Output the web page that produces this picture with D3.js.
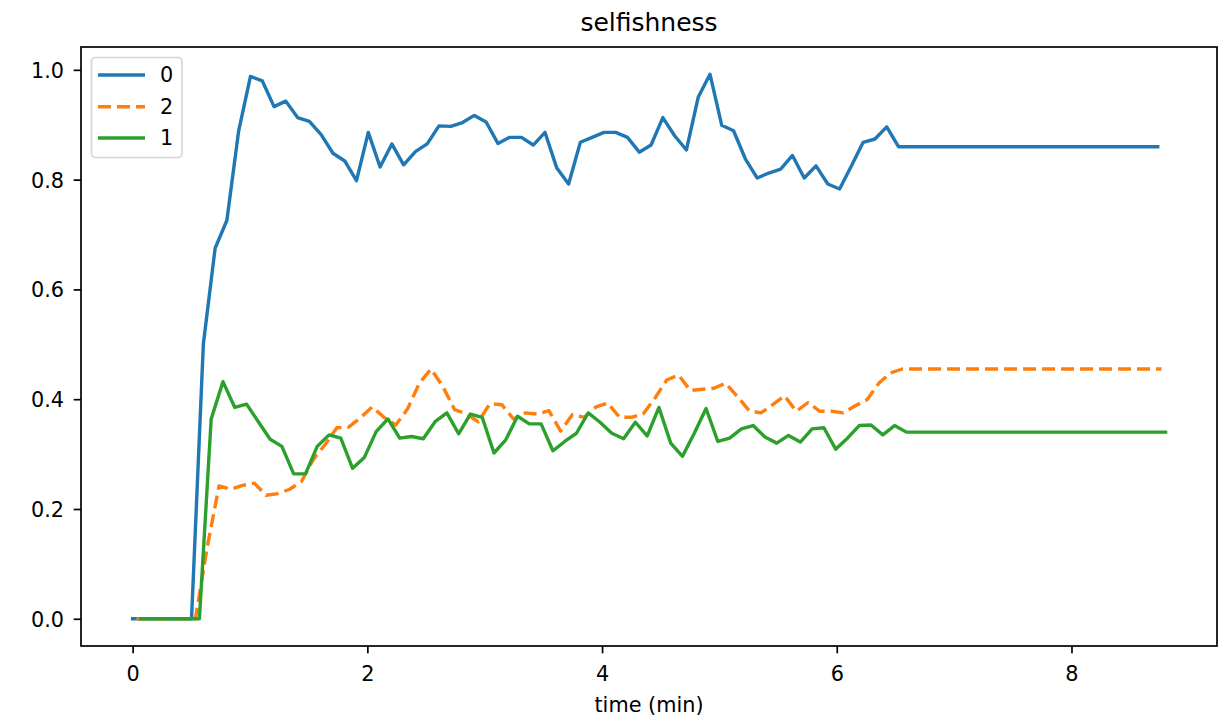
<!DOCTYPE html>
<html><head><meta charset="utf-8">
<script src="https://cdn.jsdelivr.net/npm/d3@7"></script>
<style>body{margin:0;background:#fff} svg{display:block}</style>
</head><body><svg id="c" width="1226" height="725"></svg>
<script>
const chartTitle = "selfishness";
const xLabel = "time (min)";
const seriesNames = ["0", "2", "1"];
const seriesColors = ["#1f77b4", "#ff7f0e", "#2ca02c"];
const seriesDashed = [false, true, false];
const startTimes = [0, 0.033, 0.067];
const sampleStep = 0.1004;

const values0 = [0,0,0,0,0,0,0.50,0.675,0.726,0.889,0.988,0.980,0.933,0.943,0.913,0.906,0.882,0.848,0.834,0.798,
  0.886,0.823,0.865,0.827,0.851,0.865,0.898,0.897,0.904,0.917,0.905,0.866,0.877,0.877,0.863,0.886,0.821,0.792,0.868,0.877,
  0.886,0.886,0.877,0.850,0.863,0.913,0.880,0.854,0.950,0.992,0.899,0.889,0.838,0.803,0.812,0.819,0.844,0.803,0.825,0.792,
  0.783,0.825,0.868,0.874,0.896,
  0.86,0.86,0.86,0.86,0.86,0.86,0.86,0.86,0.86,0.86,0.86,0.86,0.86,0.86,0.86,0.86,0.86,0.86,0.86,0.86,0.86,0.86,0.86];
const values2 = [0,0,0,0,0,0,0.13,0.242,0.236,0.243,0.247,0.225,0.228,0.236,0.250,0.290,0.317,0.348,0.349,0.366,
  0.386,0.367,0.353,0.382,0.429,0.455,0.423,0.381,0.373,0.359,0.392,0.390,0.364,0.375,0.373,0.379,0.342,0.372,0.367,0.386,
  0.393,0.367,0.367,0.373,0.402,0.435,0.444,0.416,0.418,0.420,0.429,0.405,0.379,0.375,0.390,0.406,0.378,0.394,0.378,0.378,
  0.375,0.388,0.399,0.429,0.448,
  0.455,0.455,0.455,0.455,0.455,0.455,0.455,0.455,0.455,0.455,0.455,0.455,0.455,0.455,0.455,0.455,0.455,0.455,0.455,0.455,0.455,0.455,0.455];
const values1 = [0,0,0,0,0,0,0.364,0.432,0.385,0.391,0.359,0.327,0.314,0.264,0.264,0.314,0.335,0.329,0.274,0.294,
  0.341,0.364,0.329,0.332,0.328,0.359,0.375,0.337,0.373,0.367,0.302,0.326,0.369,0.355,0.355,0.306,0.323,0.338,0.375,0.358,
  0.338,0.328,0.358,0.333,0.385,0.320,0.296,0.338,0.383,0.323,0.329,0.346,0.352,0.331,0.320,0.334,0.322,0.346,0.348,0.309,
  0.329,0.352,0.353,0.335,0.352,
  0.34,0.34,0.34,0.34,0.34,0.34,0.34,0.34,0.34,0.34,0.34,0.34,0.34,0.34,0.34,0.34,0.34,0.34,0.34,0.34,0.34,0.34,0.34];
const seriesValues = [values0, values2, values1];

const xTicks = [0, 2, 4, 6, 8];
const yTicks = [0.0, 0.2, 0.4, 0.6, 0.8, 1.0];
const xDomain = [-0.44, 9.24];
const yDomain = [-0.0496, 1.0416];

const W = 1226, H = 725;
const plot = {left: 81, right: 1217, top: 47, bottom: 646};
const FONT = "'DejaVu Sans', sans-serif";
const FS = 20.8;
const LW = 3.4;
const DASH = "13,6";

const svg = d3.select("#c");
const x = d3.scaleLinear().domain(xDomain).range([plot.left, plot.right]);
const y = d3.scaleLinear().domain(yDomain).range([plot.bottom, plot.top]);

svg.append("defs").append("clipPath").attr("id", "pc")
  .append("rect").attr("x", plot.left).attr("y", plot.top)
  .attr("width", plot.right - plot.left).attr("height", plot.bottom - plot.top);

// lines
const line = d3.line().x(d => x(d.t)).y(d => y(d.v));
const gLines = svg.append("g").attr("clip-path", "url(#pc)");
seriesValues.forEach((vals, i) => {
  const pts = vals.map((v, k) => ({t: startTimes[i] + k * sampleStep, v}));
  gLines.append("path").datum(pts)
    .attr("d", line)
    .attr("fill", "none")
    .attr("stroke", seriesColors[i])
    .attr("stroke-width", LW)
    .attr("stroke-linejoin", "round")
    .attr("stroke-linecap", seriesDashed[i] ? "butt" : "square")
    .attr("stroke-dasharray", seriesDashed[i] ? DASH : null);
});

// axes
const xAxis = d3.axisBottom(x).tickValues(xTicks).tickFormat(d3.format("d")).tickSize(7.3).tickSizeOuter(0);
const gx = svg.append("g").attr("transform", `translate(0,${plot.bottom})`).call(xAxis);
gx.select(".domain").remove();
gx.selectAll(".tick line").attr("stroke", "#000").attr("stroke-width", 1.7);
gx.selectAll(".tick text").attr("y", 35).attr("dy", null)
  .attr("font-family", FONT).attr("font-size", FS).attr("fill", "#000");

const yAxis = d3.axisLeft(y).tickValues(yTicks).tickFormat(d3.format(".1f")).tickSize(7.3).tickSizeOuter(0);
const gy = svg.append("g").attr("transform", `translate(${plot.left},0)`).call(yAxis);
gy.select(".domain").remove();
gy.selectAll(".tick line").attr("stroke", "#000").attr("stroke-width", 1.7);
gy.selectAll(".tick text").attr("x", -17).attr("dy", "0.36em")
  .attr("font-family", FONT).attr("font-size", FS).attr("fill", "#000");

// frame
svg.append("rect").attr("x", plot.left).attr("y", plot.top)
  .attr("width", plot.right - plot.left).attr("height", plot.bottom - plot.top)
  .attr("fill", "none").attr("stroke", "#000").attr("stroke-width", 1.7);

// title & label
svg.append("text").attr("x", (plot.left + plot.right) / 2).attr("y", 31)
  .attr("text-anchor", "middle").attr("font-family", FONT).attr("font-size", 25)
  .attr("fill", "#000").text(chartTitle);
svg.append("text").attr("x", (plot.left + plot.right) / 2).attr("y", 712)
  .attr("text-anchor", "middle").attr("font-family", FONT).attr("font-size", FS)
  .attr("fill", "#000").text(xLabel);

// legend
const lg = svg.append("g");
lg.append("rect").attr("x", 91.5).attr("y", 57.5).attr("width", 90.5).attr("height", 100)
  .attr("rx", 4).attr("fill", "#fff").attr("fill-opacity", 0.8)
  .attr("stroke", "#d6d6d6").attr("stroke-width", 1.7);
const legendRows = [75, 106.7, 138];
seriesNames.forEach((name, i) => {
  const ly = legendRows[i];
  lg.append("line").attr("x1", 98).attr("x2", 145).attr("y1", ly).attr("y2", ly)
    .attr("stroke", seriesColors[i]).attr("stroke-width", LW)
    .attr("stroke-dasharray", seriesDashed[i] ? DASH : null);
  lg.append("text").attr("x", 160).attr("y", ly).attr("dy", "0.36em")
    .attr("font-family", FONT).attr("font-size", FS).attr("fill", "#000").text(name);
});
</script></body></html>
